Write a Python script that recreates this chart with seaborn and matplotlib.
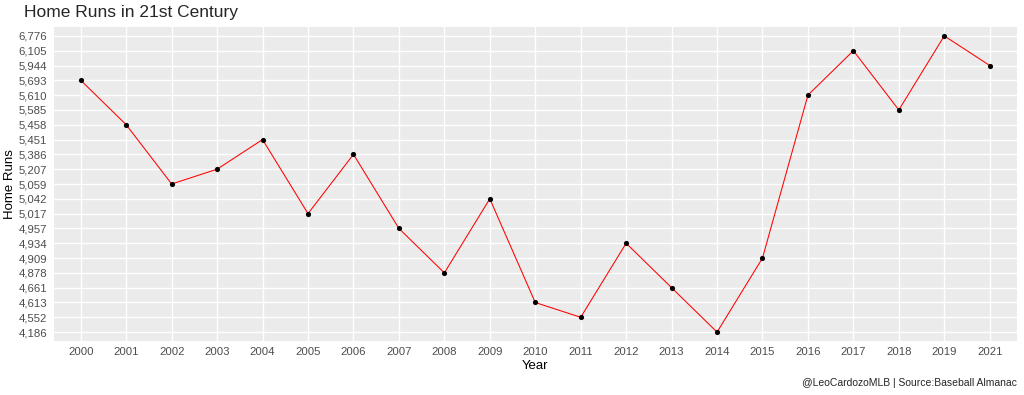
import pandas as pd
import matplotlib
matplotlib.use('Agg')
import matplotlib.pyplot as plt
import seaborn as sns

years = ['2000', '2001', '2002', '2003', '2004', '2005', '2006', '2007', '2008', '2009', '2010',
         '2011', '2012', '2013', '2014', '2015', '2016', '2017', '2018', '2019', '2021']
home_runs = [5693, 5458, 5059, 5207, 5451, 5017, 5386, 4957, 4878, 5042, 4613,
             4552, 4934, 4661, 4186, 4909, 5610, 6105, 5585, 6776, 5944]

df = pd.DataFrame({'Year': years, 'HR': home_runs})
# both axes are discrete, like factors in ggplot
hr_levels = sorted(df['HR'].unique())
df['x'] = pd.Categorical(df['Year'], categories=years).codes
df['y'] = pd.Categorical(df['HR'], categories=hr_levels).codes

sns.set_style('darkgrid', {'axes.facecolor': '#EBEBEB', 'grid.color': 'white'})
plt.rcParams['font.family'] = ['Liberation Sans', 'DejaVu Sans']

fig = plt.figure(figsize=(10.24, 3.95), dpi=100)
ax = fig.add_axes([53.5 / 1024, 1 - 341 / 395, (1017 - 53.5) / 1024, (341 - 27) / 395])

sns.lineplot(data=df, x='x', y='y', color='red', linewidth=0.75, ax=ax, sort=False)
sns.scatterplot(data=df, x='x', y='y', color='black', s=14, edgecolor='black', linewidth=0, ax=ax, zorder=3)

ax.set_xticks(range(len(years)))
ax.set_xticklabels(years)
ax.set_yticks(range(len(hr_levels)))
ax.set_yticklabels([f'{v:,}' for v in hr_levels])
ax.set_xlim(-0.6, len(years) - 1 + 0.6)
ax.set_ylim(-0.6, len(hr_levels) - 1 + 0.6)
ax.grid(True, color='white', linewidth=1.0)
for s in ax.spines.values():
    s.set_visible(False)
ax.tick_params(axis='both', which='major', length=2.5, width=0.6, color='#333333',
               labelsize=8.2, labelcolor='#4D4D4D', pad=2)

ax.set_xlabel('Year', fontsize=9.5, color='black', labelpad=2)
ax.set_ylabel('Home Runs', fontsize=9.5, color='black', labelpad=2)
fig.text(24 / 1024, 1 - 13 / 395, 'Home Runs in 21st Century', fontsize=12.5, va='center', ha='left')
fig.text(1017 / 1024, 1 - 383 / 395, '@LeoCardozoMLB | Source:Baseball Almanac', fontsize=7.5,
         va='center', ha='right')

fig.savefig('out.png', dpi=100)
